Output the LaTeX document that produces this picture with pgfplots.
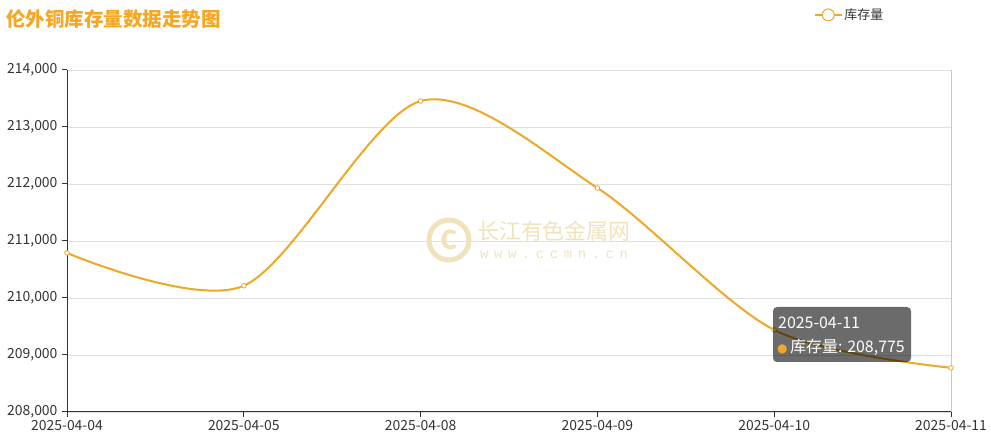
\documentclass[border=0pt]{standalone}
\usepackage{fontspec}
\setmainfont{Noto Sans CJK SC}
\newfontfamily\dejavu{DejaVu Sans}
\newfontfamily\wmfont{Liberation Mono}[LetterSpace=40]
\usepackage{pgfplots}
\pgfplotsset{compat=1.18}
\definecolor{lineor}{RGB}{236,168,38}
\definecolor{titleor}{RGB}{245,166,35}
\definecolor{axc}{RGB}{51,51,51}
\definecolor{gridc}{RGB}{224,224,224}
\definecolor{ptrc}{RGB}{200,200,200}
\definecolor{wm}{RGB}{240,226,186}
\begin{document}
\begin{tikzpicture}[x=1bp,y=1bp]
\path[use as bounding box] (0,0) rectangle (991,440);
% watermark
\draw[wm, line width=5bp] (449,200) circle (20bp);
\node[wm, font=\fontsize{26}{26}\selectfont\bfseries] at (449,200) {C};
\node[wm, anchor=west, inner sep=0pt, font=\fontsize{22}{24}\selectfont] at (477,209) {长江有色金属网};
\node[wm, anchor=west, inner sep=0pt, font=\fontsize{14}{16}\wmfont] at (480,185) {www.ccmn.cn};
% title
\node[anchor=west, inner sep=0pt, text=titleor, font=\fontsize{19.6}{21}\selectfont\bfseries] at (6,421) {伦外铜库存量数据走势图};
\begin{axis}[
  at={(67bp,28bp)}, anchor=south west,
  scale only axis, width=884bp, height=342bp,
  xmin=0, xmax=5, ymin=208000, ymax=214000,
  xtick={0,1,2,3,4,5},
  xticklabels={2025-04-04,2025-04-05,2025-04-08,2025-04-09,2025-04-10,2025-04-11},
  ytick={208000,209000,210000,211000,212000,213000,214000},
  scaled y ticks=false,
  /pgf/number format/.cd, 1000 sep={,}, fixed, assume math mode=true, /pgfplots/.cd,
  axis lines*=left,
  axis line style={axc, line width=1bp},
  ymajorgrids, grid style={gridc, line width=0.8bp},
  tick align=outside, major tick length=5bp,
  tick style={axc, line width=1bp},
  ticklabel style={text=axc, font=\fontsize{14}{16}\selectfont},
  xticklabel style={yshift=0bp},
  yticklabel style={xshift=-1bp},
  clip=false,
  legend style={at={(0.845,1.161)}, anchor=west, draw=none, fill=none,
    font=\fontsize{13}{15}\selectfont, text=axc, inner sep=0pt},
  legend image code/.code={
    \draw[lineor, line width=1.2bp] (0bp,0bp) -- (27bp,0bp);
    \draw[lineor, fill=white, line width=1bp] (13.5bp,0bp) circle (6bp);
  },
]
\addplot[ptrc, line width=1bp, forget plot] coordinates {(5,208000) (5,214000)};
\addplot[lineor, line width=2bp, smooth, tension=0.5, mark=*, mark size=2.3bp,
  mark options={fill=white, draw=lineor, line width=0.8bp}]
  coordinates {(0,210790) (1,210215) (2,213455) (3,211930) (4,209440) (5,208775)};
\addlegendentry{库存量}
\end{axis}
% tooltip
\fill[black, fill opacity=0.58, rounded corners=4bp] (773,78) rectangle (911,133);
\node[anchor=west, inner sep=0pt, text=white, font=\fontsize{16}{18}\selectfont] at (778,117) {2025-04-11};
\node[anchor=west, inner sep=0pt, text=white, font=\fontsize{16}{18}\selectfont] at (777,93) {{\dejavu\fontsize{12}{14}\selectfont\textcolor{lineor}{●}}\,库存量: 208,775};
\end{tikzpicture}
\end{document}
